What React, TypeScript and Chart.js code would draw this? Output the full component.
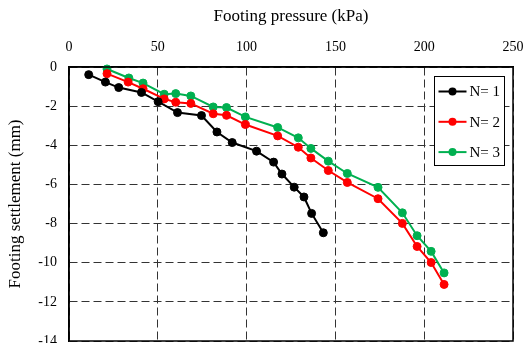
import React, { useEffect, useRef } from "react";
import { Chart, registerables } from "chart.js";

Chart.register(...registerables);

const seriesNames = ["N= 1", "N= 2", "N= 3"];
const seriesColors = ["#000000", "#FF0000", "#00B050"];

const n1Pressure = [11.1, 20.5, 28.0, 40.8, 50.2, 61.1, 74.6, 83.3, 91.9, 105.6, 115.2, 119.9, 126.8, 132.3, 136.6, 143.2];
const n1Settlement = [-0.39, -0.77, -1.05, -1.3, -1.77, -2.33, -2.48, -3.32, -3.86, -4.3, -4.86, -5.47, -6.14, -6.64, -7.48, -8.47];

const n2Pressure = [21.4, 33.3, 41.7, 53.6, 60.1, 68.6, 81.2, 88.7, 99.3, 117.5, 129.1, 136.2, 146.0, 156.7, 174.0, 187.7, 196.0, 203.9, 211.2];
const n2Settlement = [-0.34, -0.77, -1.11, -1.63, -1.8, -1.86, -2.39, -2.47, -2.94, -3.52, -4.1, -4.65, -5.29, -5.9, -6.73, -7.99, -9.17, -9.99, -11.11];

const n3Pressure = [21.4, 33.7, 41.7, 53.6, 60.1, 68.6, 81.2, 88.7, 99.3, 117.5, 129.1, 136.2, 146.0, 156.7, 174.0, 187.7, 196.0, 203.9, 211.2];
const n3Settlement = [-0.1, -0.56, -0.82, -1.39, -1.36, -1.48, -2.04, -2.07, -2.55, -3.09, -3.62, -4.16, -4.81, -5.44, -6.15, -7.45, -8.62, -9.42, -10.52];

const xTicks = [0, 50, 100, 150, 200, 250];
const yTicks = [0, -2, -4, -6, -8, -10, -12, -14];

const xTitle = "Footing pressure (kPa)";
const yTitle = "Footing settlement (mm)";

const FONT = '"Liberation Serif", "Times New Roman", serif';

const pairs = (xs: number[], ys: number[]) => xs.map((x, i) => ({ x, y: ys[i] }));

const frameAndLegend = {
  id: "frameAndLegend",
  afterDatasetsDraw(chart: any) {
    const { ctx, chartArea } = chart;
    ctx.save();
    ctx.strokeStyle = "#000";
    ctx.lineWidth = 1.5;
    ctx.setLineDash([]);
    ctx.strokeRect(chartArea.left, chartArea.top, chartArea.right - chartArea.left, chartArea.bottom - chartArea.top);
    ctx.restore();
  },
  afterDraw(chart: any) {
    const { ctx, chartArea } = chart;
    const bx = chartArea.right - 78.5;
    const by = chartArea.top + 9.5;
    const bw = 70;
    const bh = 89;
    ctx.save();
    ctx.fillStyle = "#fff";
    ctx.fillRect(bx, by, bw, bh);
    ctx.strokeStyle = "#000";
    ctx.lineWidth = 1;
    ctx.setLineDash([]);
    ctx.strokeRect(bx, by, bw, bh);
    chart.data.datasets.forEach((ds: any, i: number) => {
      const cy = by + 15 + i * 30.3;
      ctx.strokeStyle = ds.borderColor;
      ctx.lineWidth = 2;
      ctx.beginPath();
      ctx.moveTo(bx + 4, cy);
      ctx.lineTo(bx + 32, cy);
      ctx.stroke();
      ctx.fillStyle = ds.pointBackgroundColor;
      ctx.beginPath();
      ctx.arc(bx + 18, cy, 4, 0, Math.PI * 2);
      ctx.fill();
      ctx.fillStyle = "#000";
      ctx.font = "15px " + FONT;
      ctx.textBaseline = "middle";
      ctx.textAlign = "left";
      ctx.fillText(ds.label, bx + 35, cy + 1);
    });
    ctx.restore();
  },
};

export default function App() {
  const ref = useRef<HTMLCanvasElement | null>(null);

  useEffect(() => {
    document.body.style.margin = "0";
    const canvas = ref.current;
    if (!canvas) return;
    const xs = [n1Pressure, n2Pressure, n3Pressure];
    const ys = [n1Settlement, n2Settlement, n3Settlement];
    const chart = new Chart(canvas, {
      type: "scatter",
      data: {
        datasets: seriesNames.map((name, i) => ({
          label: name,
          data: pairs(xs[i], ys[i]),
          showLine: true,
          borderColor: seriesColors[i],
          backgroundColor: seriesColors[i],
          pointBackgroundColor: seriesColors[i],
          pointBorderColor: seriesColors[i],
          pointRadius: 4,
          pointBorderWidth: 1,
          borderWidth: 2,
          tension: 0,
          clip: false,
        })),
      },
      options: {
        responsive: false,
        animation: false,
        devicePixelRatio: 1,
        layout: { autoPadding: false, padding: { left: 0, right: 12, top: 0, bottom: 2 } },
        plugins: {
          legend: { display: false },
          tooltip: { enabled: false },
        },
        scales: {
          x: {
            type: "linear",
            position: "top",
            min: 0,
            max: 250,
            afterBuildTicks: (scale: any) => {
              scale.ticks = xTicks.map((v) => ({ value: v }));
            },
            afterFit: (scale: any) => {
              scale.height = 67;
              scale.paddingLeft = 0;
              scale.paddingRight = 0;
            },
            ticks: {
              color: "#000",
              font: { family: FONT, size: 14 },
              padding: 11,
              maxRotation: 0,
            },
            grid: {
              color: "#333",
              lineWidth: 1,
              drawTicks: false,
            },
            border: { display: true, color: "#000", width: 1.5, dash: [8, 4] },
            title: {
              display: true,
              text: xTitle,
              color: "#000",
              font: { family: FONT, size: 17 },
              padding: { top: 6, bottom: 0 },
            },
          },
          y: {
            type: "linear",
            min: -14,
            max: 0,
            afterBuildTicks: (scale: any) => {
              scale.ticks = yTicks.map((v) => ({ value: v }));
            },
            afterFit: (scale: any) => {
              scale.width = 69;
              scale.paddingTop = 0;
              scale.paddingBottom = 0;
            },
            ticks: {
              color: "#000",
              font: { family: FONT, size: 14 },
              padding: 12,
            },
            grid: {
              color: "#333",
              lineWidth: 1,
              drawTicks: false,
            },
            border: { display: true, color: "#000", width: 1.5, dash: [8, 4] },
            title: {
              display: true,
              text: yTitle,
              color: "#000",
              font: { family: FONT, size: 17 },
              padding: { top: 5, bottom: 0 },
            },
          },
        },
      },
      plugins: [frameAndLegend],
    } as any);
    return () => chart.destroy();
  }, []);

  return (
    <div style={{ width: 525, height: 343 }}>
      <canvas ref={ref} width={525} height={343} />
    </div>
  );
}
